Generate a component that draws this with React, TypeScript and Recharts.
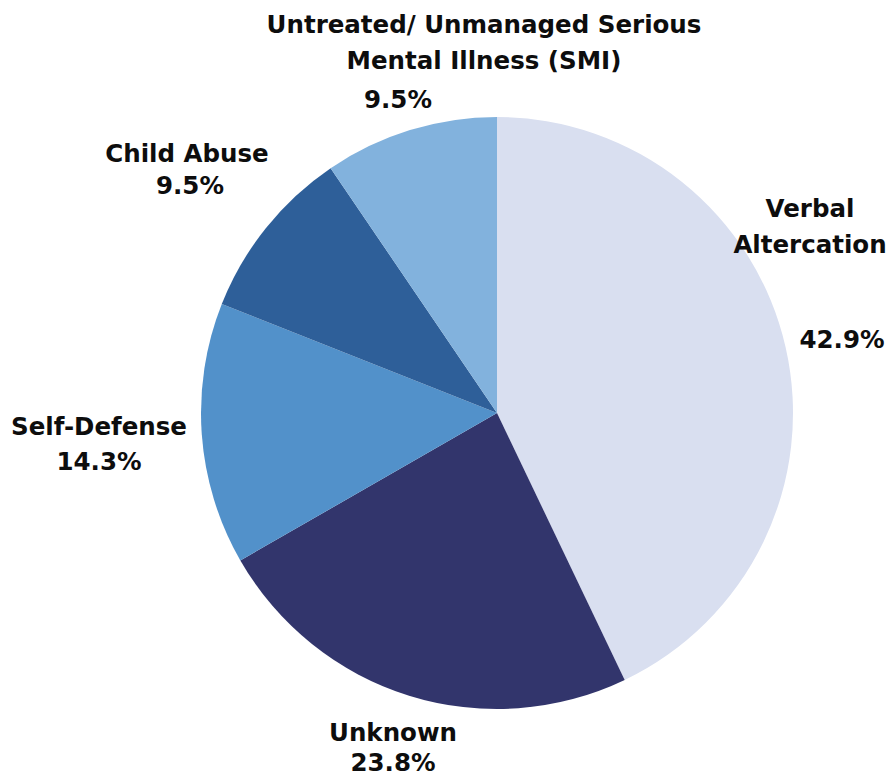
import React from "react";
import { PieChart, Pie, Cell } from "recharts";

const categories = [
  "Verbal Altercation",
  "Unknown",
  "Self-Defense",
  "Child Abuse",
  "Untreated/ Unmanaged Serious Mental Illness (SMI)",
];
const values = [42.9, 23.8, 14.3, 9.5, 9.5];
const valueLabels = ["42.9%", "23.8%", "14.3%", "9.5%", "9.5%"];
const nameLines = [
  ["Verbal", "Altercation"],
  ["Unknown"],
  ["Self-Defense"],
  ["Child Abuse"],
  ["Untreated/ Unmanaged Serious", "Mental Illness (SMI)"],
];
const colors = ["#D9DFF0", "#32356C", "#5291CA", "#2E5F99", "#82B2DD"];

// label layout: offsets from pie centre (name first-line baseline, value baseline)
const nameOffsets = [
  [313, -196],
  [-104, 328],
  [-398, 22],
  [-310, -251],
  [-13, -380],
];
const valueOffsets = [
  [345, -65],
  [-104, 358],
  [-398, 57],
  [-307, -219],
  [-99, -305],
];

const data = categories.map((c, i) => ({ name: c, value: values[i] }));

const FONT = "'DejaVu Sans', sans-serif";
const FS = 24.5;

const renderLabel = (props: any) => {
  const { cx, cy, index } = props;
  const [nx, ny] = nameOffsets[index];
  const [vx, vy] = valueOffsets[index];
  return (
    <g>
      {nameLines[index].map((line, j) => (
        <text
          key={j}
          x={cx + nx}
          y={cy + ny + j * 35.5}
          textAnchor="middle"
          fill="#0d0d0d"
          fontFamily={FONT}
          fontWeight={700}
          fontSize={FS}
        >
          {line}
        </text>
      ))}
      <text
        x={cx + vx}
        y={cy + vy}
        textAnchor="middle"
        fill="#0d0d0d"
        fontFamily={FONT}
        fontWeight={700}
        fontSize={FS}
      >
        {valueLabels[index]}
      </text>
    </g>
  );
};

export default function App() {
  return (
    <div style={{ position: "absolute", left: 0, top: 0, background: "#fff" }}>
      <PieChart width={892} height={778} margin={{ top: 0, right: 0, bottom: 0, left: 0 }}>
        <Pie
          data={data}
          dataKey="value"
          nameKey="name"
          cx={497}
          cy={413}
          outerRadius={296}
          startAngle={90}
          endAngle={-270}
          stroke="none"
          label={renderLabel}
          labelLine={false}
          isAnimationActive={false}
        >
          {data.map((d, i) => (
            <Cell key={d.name} fill={colors[i]} />
          ))}
        </Pie>
      </PieChart>
    </div>
  );
}
